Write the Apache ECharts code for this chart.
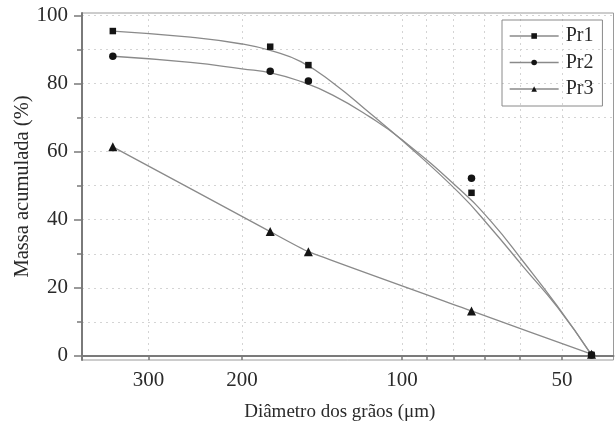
<!DOCTYPE html>
<html>
<head>
<meta charset="utf-8">
<script src="https://cdn.jsdelivr.net/npm/echarts@6/dist/echarts.min.js"></script>
<style>
html,body{margin:0;padding:0;background:#fff;}
#chart{width:615px;height:431px;}
</style>
</head>
<body>
<div id="chart"></div>
<script>
const diameters = [350, 177, 150, 74, 44];
const pr1 = [95.4, 90.8, 85.4, 47.9, 0.3];
const pr2 = [88.0, 83.6, 80.7, 52.2, 0.3];
const pr3 = [61.4, 36.5, 30.6, 13.2, 0.5];
const seriesNames = ['Pr1', 'Pr2', 'Pr3'];

// Fitted curves of Pr1 and Pr2
const fitD = [350, 250, 200, 175, 155, 135, 115, 100, 78, 68, 59, 51, 44];
const pr1Fit = [95.4, 93.6, 91.6, 89.5, 86.4, 80.2, 71.3, 63.3, 47.8, 37.5, 26.0, 14.3, 0.3];
const pr2Fit = [88.0, 86.2, 84.3, 83.0, 80.6, 76.6, 70.2, 63.5, 49.0, 39.5, 27.5, 14.6, 0.3];

const xLabelTicks = [300, 200, 100, 50];
const xAllTicks = [300, 200, 100, 90, 80, 70, 60, 50];
const yLabelTicks = [0, 20, 40, 60, 80, 100];
const yAllTicks = [0, 10, 20, 30, 40, 50, 60, 70, 80, 90, 100];

const FONT = '"Liberation Serif", "DejaVu Serif", serif';
const TXT = '#2a2a2a';
const AX = '#7a7a7a';
const LINE = '#8a8a8a';
const MARK = '#141414';

function zip(xs, ys) { return xs.map((d, i) => [d, ys[i]]); }

const chart = echarts.init(document.getElementById('chart'), null, {renderer: 'canvas'});
chart.setOption({
  animation: false,
  backgroundColor: '#fff',
  grid: {left: 82, right: 1.5, top: 13, bottom: 71, show: true, borderColor: '#9a9a9a', borderWidth: 1,
         containLabel: false, outerBoundsMode: 'none'},
  legend: {
    orient: 'vertical', left: 502, top: 20,
    padding: [6, 9, 7, 7],
    borderColor: '#8a8a8a', borderWidth: 1,
    itemWidth: 49, itemHeight: 7, itemGap: 6.5,
    lineStyle: {color: LINE, width: 1.3, opacity: 1},
    textStyle: {fontFamily: FONT, fontSize: 20, color: TXT, lineHeight: 20, padding: [0, 0, 0, 2]},
    data: seriesNames
  },
  xAxis: [{
    type: 'log', min: 40, max: 400, inverse: true,
    name: 'Diâmetro dos grãos (μm)', nameLocation: 'middle', nameGap: 43,
    nameTextStyle: {fontFamily: FONT, fontSize: 19, color: TXT, padding: [0, 16, 0, 0]},
    axisLine: {show: true, lineStyle: {color: AX, width: 2}},
    axisTick: {show: true, length: 4, customValues: xAllTicks, lineStyle: {color: AX, width: 1.5}},
    axisLabel: {customValues: xLabelTicks, margin: 10, fontFamily: FONT, fontSize: 21, color: TXT},
    splitLine: {show: true, lineStyle: {color: '#d4d4d4', type: [2, 4], width: 1}},
    minorTick: {show: false}
  }],
  yAxis: [{
    type: 'value', min: -1.2, max: 100.7,
    name: 'Massa acumulada (%)', nameLocation: 'middle', nameGap: 49, nameMoveOverlap: false,
    nameTextStyle: {fontFamily: FONT, fontSize: 20.5, color: TXT},
    axisLine: {show: true, lineStyle: {color: AX, width: 2}},
    axisTick: {show: true, length: 8, customValues: yLabelTicks, lineStyle: {color: AX, width: 1.5}},
    axisLabel: {customValues: yLabelTicks, margin: 14, fontFamily: FONT, fontSize: 21, color: TXT},
    splitLine: {show: false}
  }, {
    type: 'value', min: -1.2, max: 100.7, position: 'left',
    axisLine: {show: false},
    axisTick: {show: true, length: 5, customValues: yAllTicks, lineStyle: {color: AX, width: 1.5}},
    axisLabel: {show: false},
    splitLine: {show: true, lineStyle: {color: '#d4d4d4', type: [2, 4], width: 1}}
  }],
  series: [
    {name: 'Pr1 ajuste', type: 'line', data: zip(fitD, pr1Fit), smooth: 0.5, showSymbol: false, symbol: 'none',
     lineStyle: {color: LINE, width: 1.3}, z: 2, silent: true},
    {name: 'Pr2 ajuste', type: 'line', data: zip(fitD, pr2Fit), smooth: 0.5, showSymbol: false, symbol: 'none',
     lineStyle: {color: LINE, width: 1.3}, z: 2, silent: true},
    {name: 'Pr1', type: 'line', data: zip(diameters, pr1), symbol: 'rect', symbolSize: 6.5,
     itemStyle: {color: MARK}, lineStyle: {color: LINE, width: 1.3, opacity: 0}, z: 4},
    {name: 'Pr2', type: 'line', data: zip(diameters, pr2), symbol: 'circle', symbolSize: 7.5,
     itemStyle: {color: MARK}, lineStyle: {color: LINE, width: 1.3, opacity: 0}, z: 4},
    {name: 'Pr3', type: 'line', data: zip(diameters, pr3), smooth: 0.15, symbol: 'triangle', symbolSize: 9,
     itemStyle: {color: MARK}, lineStyle: {color: LINE, width: 1.3}, z: 4}
  ]
});
</script>
</body>
</html>
